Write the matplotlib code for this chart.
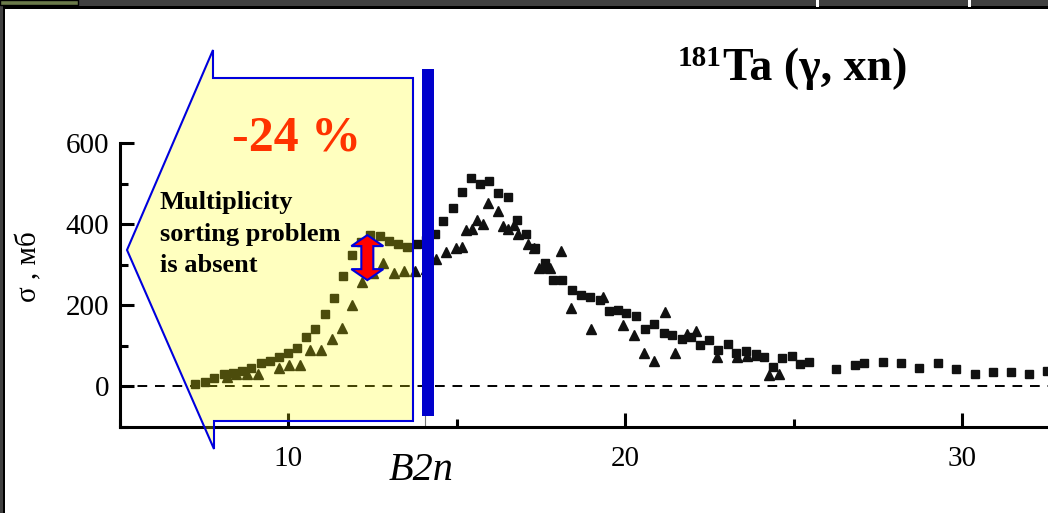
import matplotlib
matplotlib.use("Agg")
import matplotlib.pyplot as plt
from matplotlib.patches import Polygon, Rectangle
from matplotlib.ticker import MultipleLocator
import numpy as np

plt.rcParams['font.family'] = ['Liberation Serif', 'DejaVu Serif']

# cross sections, squares and triangles (mb vs MeV)
sq_x = [7.24, 7.52, 7.80, 8.08, 8.36, 8.63, 8.89, 9.17, 9.44, 9.71, 9.98, 10.26, 10.53,
        10.80, 11.07, 11.34, 11.61, 11.88, 12.16, 12.43, 12.71, 12.98, 13.24, 13.52, 13.80,
        14.08, 14.36, 14.59, 14.87, 15.14, 15.41, 15.68, 15.94, 16.22, 16.50, 16.77,
        17.05, 17.32, 17.60, 17.85, 18.13, 18.41, 18.69, 18.96, 19.23, 19.51, 19.77, 20.03,
        20.32, 20.59, 20.85, 21.13, 21.39, 21.67, 21.94, 22.21, 22.48, 22.76, 23.04, 23.29,
        23.58, 23.86, 24.10, 24.38, 24.66, 24.94, 25.19, 25.46,
        26.26, 26.80, 27.09, 27.64, 28.18, 28.72, 29.27, 29.82, 30.36, 30.90, 31.44, 31.99, 32.51]
sq_y = [5, 11, 20, 30, 33, 38, 46, 58, 62, 72, 82, 95, 122, 142, 179, 219, 272, 324, 355,
        373, 370, 359, 350, 344, 351,
        360, 375, 408, 440, 480, 513, 499, 507, 477, 467, 409,
        376, 342, 305, 263, 262, 237, 226, 221, 214, 185, 189, 182,
        173, 141, 153, 131, 126, 116, 121, 101, 115, 89, 104, 83,
        87, 79, 72, 49, 69, 74, 56, 60,
        42, 54, 58, 59, 58, 45, 58, 42, 31, 35, 35, 31, 38]

tr_x = [8.17, 8.44, 8.77, 9.09, 9.72, 10.03, 10.34, 10.65, 10.96, 11.28,
        11.58, 11.88, 12.19, 12.50, 12.80, 13.13, 13.44, 13.76, 14.07, 14.38,
        14.67, 14.97, 15.14, 15.27, 15.45, 15.60, 15.77, 15.91, 16.21, 16.36,
        16.51, 16.69, 16.82, 17.12, 17.28, 17.43, 17.62, 17.77, 18.09, 18.37,
        18.99, 19.33, 19.93, 20.24, 20.54, 20.86, 21.16, 21.48, 21.84, 22.10,
        22.71, 23.32, 23.61, 23.86, 24.25, 24.55]
tr_y = [23, 31, 31, 30, 45, 54, 54, 89, 90, 118,
        145, 201, 258, 280, 305, 279, 285, 285, 290, 314,
        332, 340, 343, 385, 389, 410, 401, 451, 432, 396,
        387, 398, 375, 351, 340, 293, 295, 293, 335, 193,
        142, 220, 151, 126, 83, 63, 183, 82, 129, 137,
        72, 72, 76, 78, 27, 30]

B2N = 14.05
arrow_x = 12.34
arrow_top, arrow_bot = 373, 262

W, H = 1048, 513
fig = plt.figure(figsize=(W / 100, H / 100), dpi=100)
fig.patch.set_facecolor('white')


def px(x, y):
    """pixel position -> figure fraction"""
    return (x / W, 1 - y / H)


# slide window frame
fig.patches.append(Rectangle((0, 1 - 7 / H), 1, 7 / H, transform=fig.transFigure,
                             facecolor='#404040', edgecolor='none'))
fig.patches.append(Rectangle((0, 1 - 9 / H), 1, 2.5 / H, transform=fig.transFigure,
                             facecolor='black', edgecolor='none'))
fig.patches.append(Rectangle((0, 0), 3 / W, 1, transform=fig.transFigure,
                             facecolor='#404040', edgecolor='none'))
fig.patches.append(Rectangle((3 / W, 0), 2 / W, 1 - 7 / H, transform=fig.transFigure,
                             facecolor='black', edgecolor='none'))
fig.patches.append(Rectangle((0, 1 - 5 / H), 78 / W, 5 / H, transform=fig.transFigure,
                             facecolor='#6b7a4a', edgecolor='black', linewidth=1))
for sx in (816, 968):
    fig.patches.append(Rectangle((sx / W, 1 - 7 / H), 3 / W, 7 / H, transform=fig.transFigure,
                                 facecolor='white', edgecolor='none'))

ax = fig.add_axes([120 / W, (H - 427) / H, 1 - 120 / W, (427 - 143) / H])
ax.set_xlim(5, 32.54)
ax.set_ylim(-100, 600)

ax.axhline(0, color='black', lw=1.4, ls=(0, (5, 4)), zorder=1)
ax.plot(sq_x, sq_y, ls='none', marker='s', ms=5.8, color='#111111', zorder=3)
ax.plot(tr_x, tr_y, ls='none', marker='^', ms=7.5, color='#111111', zorder=3)

for side in ('top', 'right'):
    ax.spines[side].set_visible(False)
for side in ('left', 'bottom'):
    ax.spines[side].set_linewidth(2.2)

ax.xaxis.set_major_locator(MultipleLocator(10))
ax.xaxis.set_minor_locator(MultipleLocator(5))
ax.yaxis.set_major_locator(MultipleLocator(200))
ax.yaxis.set_minor_locator(MultipleLocator(100))
ax.set_yticks([0, 200, 400, 600])
ax.tick_params(which='major', direction='in', length=10, width=2.2, labelsize=21, pad=8)
ax.tick_params(which='minor', direction='in', length=6, width=2.2)
ax.tick_params(axis='x', which='major', pad=14)

# B2n threshold marker
ax.plot([B2N, B2N], [-100, -72], color='#777777', lw=0.8, zorder=2)
ax.add_patch(Rectangle((13.95, -74), 0.38, 857, facecolor='#0000CC', edgecolor='none',
                       clip_on=False, zorder=6))
ax.annotate('B2n', xy=(B2N, 0), xycoords=('data', 'axes fraction'), xytext=(-3, -31),
            textcoords='offset points', ha='center', va='center', fontsize=29,
            fontstyle='italic')

fig.text(29 / W, 1 - 267 / H, 'σ , мб', rotation=90, ha='center', va='center', fontsize=21)

# callout arrow box
pent = [px(213, 50), px(213, 78), px(413, 78), px(413, 421), px(214, 421), px(214, 449),
        px(127, 250)]
ax.add_patch(Polygon(pent, closed=True, transform=fig.transFigure, facecolor='yellow',
                     alpha=0.25, edgecolor='none', clip_on=False, zorder=5))
ax.add_patch(Polygon(pent, closed=True, transform=fig.transFigure, facecolor='none',
                     edgecolor='#0000DD', lw=1.5, clip_on=False, zorder=5))

fig.text(297 / W, 1 - 139 / H, '-24 %', color='#FF3300', fontsize=36, fontweight='bold',
         ha='center', va='center', zorder=7)
fig.text(160 / W, 1 - 234 / H, 'Multiplicity\nsorting problem\nis absent', fontsize=19,
         fontweight='bold', ha='left', va='center', linespacing=1.45, zorder=7)

# red double arrow between the two data sets
cx = ax.transData.transform((arrow_x, arrow_top))[0]
y_top = ax.transData.transform((arrow_x, arrow_top))[1]
y_bot = ax.transData.transform((arrow_x, arrow_bot))[1]
hl, hw, sw = 11, 16, 6
pts = [(cx, y_top), (cx + hw, y_top - hl), (cx + sw, y_top - hl), (cx + sw, y_bot + hl),
       (cx + hw, y_bot + hl), (cx, y_bot), (cx - hw, y_bot + hl), (cx - sw, y_bot + hl),
       (cx - sw, y_top - hl), (cx - hw, y_top - hl)]
pts = [(x / W, y / H) for x, y in pts]
ax.add_patch(Polygon(pts, closed=True, transform=fig.transFigure, facecolor='red',
                     edgecolor='#0000DD', lw=1.5, clip_on=False, zorder=8))

# reaction label
fig.text(723 / W, 1 - 80 / H, 'Ta (γ, xn)', fontsize=33, fontweight='bold',
         ha='left', va='baseline')
fig.text(722 / W, 1 - 66 / H, '181', fontsize=21, fontweight='bold', ha='right',
         va='baseline')

fig.savefig('out.png', dpi=100)
